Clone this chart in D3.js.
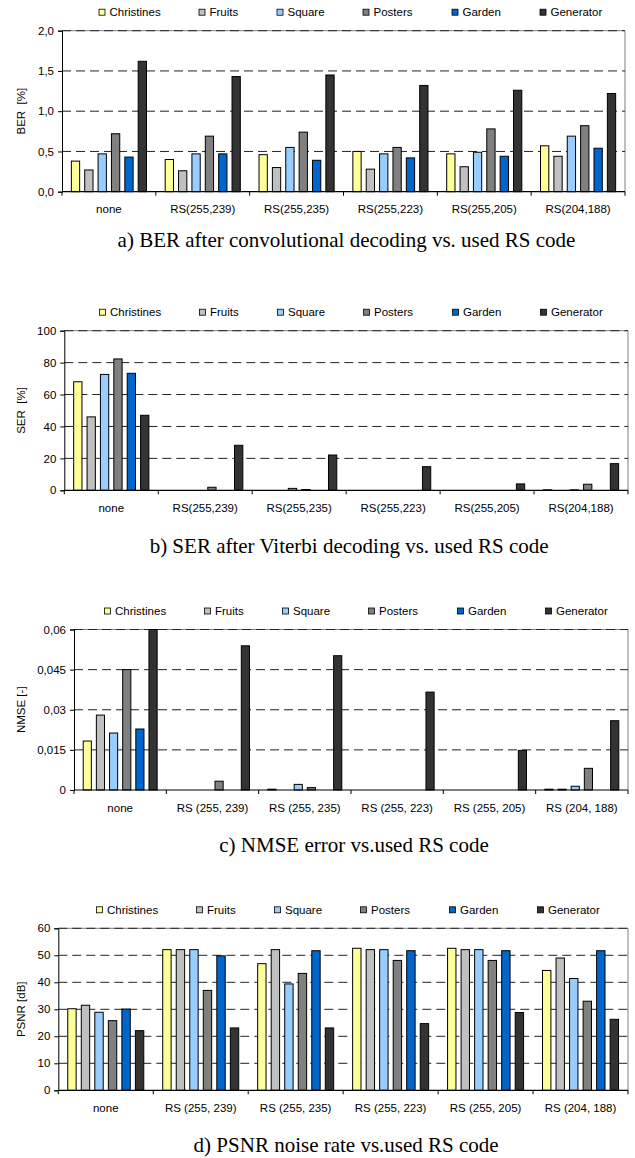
<!DOCTYPE html>
<html>
<head>
<meta charset="utf-8">
<script src="https://cdn.jsdelivr.net/npm/d3@7"></script>
<style>
  body { margin: 0; background: #fff; }
  svg { display: block; }
</style>
</head>
<body>
<div id="chart"></div>
<script>
// series / legend
const series = ["Christines", "Fruits", "Square", "Posters", "Garden", "Generator"];
const seriesColors = ["#FFFF99", "#C0C0C0", "#99CCFF", "#808080", "#0066CC", "#333333"];

// category labels
const catsCompact = ["none", "RS(255,239)", "RS(255,235)", "RS(255,223)", "RS(255,205)", "RS(204,188)"];
const catsSpaced = ["none", "RS (255, 239)", "RS (255, 235)", "RS (255, 223)", "RS (255, 205)", "RS (204, 188)"];

// values, one row per category, columns follow `series`
const berData = [
  [0.38, 0.27, 0.47, 0.72, 0.43, 1.62],
  [0.40, 0.26, 0.47, 0.69, 0.47, 1.43],
  [0.46, 0.30, 0.55, 0.74, 0.39, 1.45],
  [0.50, 0.28, 0.47, 0.55, 0.42, 1.32],
  [0.47, 0.31, 0.49, 0.78, 0.44, 1.26],
  [0.57, 0.44, 0.69, 0.82, 0.54, 1.22]
];
const serData = [
  [68, 46, 72.6, 82.3, 73.3, 47],
  [0, 0, 0, 1.9, 0, 28.2],
  [0, 0, 1.2, 0.5, 0, 22.1],
  [0, 0, 0, 0, 0, 14.8],
  [0, 0, 0, 0, 0, 4.0],
  [0.3, 0, 0.3, 3.8, 0, 16.7]
];
const nmseData = [
  [0.0183, 0.028, 0.0213, 0.045, 0.0228, 0.06],
  [0, 0, 0, 0.0033, 0, 0.0539],
  [0.0003, 0, 0.0021, 0.0009, 0, 0.0502],
  [0, 0, 0, 0, 0, 0.0366],
  [0, 0, 0, 0, 0, 0.0148],
  [0.0003, 0.0003, 0.0014, 0.0081, 0, 0.0259]
];
const psnrData = [
  [30.2, 31.5, 28.9, 25.8, 30.1, 22.1],
  [52.1, 52.1, 52.1, 37.0, 49.8, 23.1],
  [46.9, 52.1, 39.4, 43.3, 51.7, 23.1],
  [52.6, 52.1, 52.1, 48.1, 51.7, 24.7],
  [52.6, 52.1, 52.1, 48.1, 51.7, 28.8],
  [44.4, 49.0, 41.4, 33.0, 51.7, 26.3]
];

// y ticks
const berTicks = [0, 0.5, 1, 1.5, 2];
const berTickLabels = ["0,0", "0,5", "1,0", "1,5", "2,0"];
const serTicks = [0, 20, 40, 60, 80, 100];
const serTickLabels = ["0", "20", "40", "60", "80", "100"];
const nmseTicks = [0, 0.015, 0.03, 0.045, 0.06];
const nmseTickLabels = ["0", "0,015", "0,03", "0,045", "0,06"];
const psnrTicks = [0, 10, 20, 30, 40, 50, 60];
const psnrTickLabels = ["0", "10", "20", "30", "40", "50", "60"];

const W = 635, H = 1158;
const sans = "'Liberation Sans', Arial, sans-serif";
const serif = "'Liberation Serif', 'Times New Roman', serif";
const legendX = [99, 199, 277, 363, 452, 540];

const panels = [
  { data: berData, cats: catsCompact, ticks: berTicks, tickLabels: berTickLabels, yTitle: "BER  [%]",
    caption: "a) BER after convolutional decoding vs. used RS code",
    left: 62, right: 625, top: 30.7, bottom: 191.7, legendShift: 0, captionY: 247 },
  { data: serData, cats: catsCompact, ticks: serTicks, tickLabels: serTickLabels, yTitle: "SER  [%]",
    caption: "b) SER after Viterbi decoding vs. used RS code",
    left: 64.3, right: 628, top: 330.7, bottom: 490.3, legendShift: 0.5, captionY: 553 },
  { data: nmseData, cats: catsSpaced, ticks: nmseTicks, tickLabels: nmseTickLabels, yTitle: "NMSE [-]",
    caption: "c) NMSE error vs.used RS code",
    left: 74, right: 628, top: 629.5, bottom: 790, legendShift: 5.5, captionY: 852 },
  { data: psnrData, cats: catsSpaced, ticks: psnrTicks, tickLabels: psnrTickLabels, yTitle: "PSNR [dB]",
    caption: "d) PSNR noise rate vs.used RS code",
    left: 58.3, right: 628, top: 928.3, bottom: 1090.3, legendShift: -2.5, captionY: 1152 }
];

const svg = d3.select("#chart").append("svg")
  .attr("width", W)
  .attr("height", H)
  .attr("viewBox", `0 0 ${W} ${H}`);

svg.append("rect").attr("width", W).attr("height", H).attr("fill", "#fff");

panels.forEach(p => {
  const g = svg.append("g");
  const yMax = p.ticks[p.ticks.length - 1];

  const x0 = d3.scaleBand().domain(p.cats).range([p.left, p.right]).padding(0);
  const x1 = d3.scaleBand().domain(series).range([0, x0.bandwidth()])
    .paddingInner(0.38).paddingOuter(0.7);
  const y = d3.scaleLinear().domain([0, yMax]).range([p.bottom, p.top]);

  // plot frame (top + right, grey)
  g.append("path")
    .attr("d", `M${p.left},${y(yMax)}H${p.right}V${y(0)}`)
    .attr("fill", "none")
    .attr("stroke", "#808080")
    .attr("stroke-width", 1);

  // dashed gridlines
  g.append("g").selectAll("line")
    .data(p.ticks.filter(t => t > 0))
    .join("line")
    .attr("x1", p.left).attr("x2", p.right)
    .attr("y1", d => y(d)).attr("y2", d => y(d))
    .attr("stroke", "#222")
    .attr("stroke-width", 1)
    .attr("stroke-dasharray", "9,5");

  // bars
  const groups = g.append("g").selectAll("g")
    .data(p.data)
    .join("g")
    .attr("transform", (d, i) => `translate(${x0(p.cats[i])},0)`);

  groups.selectAll("rect")
    .data(row => row.map((v, j) => ({ key: series[j], v, c: seriesColors[j] })))
    .join("rect")
    .filter(d => d.v > 0)
    .attr("x", d => x1(d.key))
    .attr("width", x1.bandwidth())
    .attr("y", d => y(d.v))
    .attr("height", d => y(0) - y(d.v))
    .attr("fill", d => d.c)
    .attr("stroke", "#000")
    .attr("stroke-width", 1);

  // y axis
  const yAxis = d3.axisLeft(y)
    .tickValues(p.ticks)
    .tickFormat((d, i) => p.tickLabels[i])
    .tickSize(4)
    .tickPadding(4);
  const ya = g.append("g")
    .attr("transform", `translate(${p.left},0)`)
    .call(yAxis);
  ya.select(".domain").attr("stroke", "#000");
  ya.selectAll("line").attr("stroke", "#000");
  ya.selectAll("text").attr("font-family", sans).attr("font-size", 11.5).attr("fill", "#000");

  // x axis: baseline + boundary ticks + category labels
  const xa = g.append("g").attr("transform", `translate(0,${p.bottom})`);
  xa.append("line")
    .attr("x1", p.left).attr("x2", p.right)
    .attr("stroke", "#000").attr("stroke-width", 1.2);
  const bounds = p.cats.map(c => x0(c)).concat([x0.range()[1]]);
  xa.selectAll(".bt")
    .data(bounds)
    .join("line")
    .attr("class", "bt")
    .attr("x1", d => d).attr("x2", d => d)
    .attr("y1", 0).attr("y2", 4)
    .attr("stroke", "#000");
  xa.selectAll(".cl")
    .data(p.cats)
    .join("text")
    .attr("class", "cl")
    .attr("x", d => x0(d) + x0.bandwidth() / 2)
    .attr("y", 21.5)
    .attr("text-anchor", "middle")
    .attr("font-family", sans)
    .attr("font-size", 11.5)
    .text(d => d);

  // y title
  g.append("text")
    .attr("transform", `translate(20.7,${(p.top + p.bottom) / 2}) rotate(-90)`)
    .attr("dy", "0.35em")
    .attr("text-anchor", "middle")
    .attr("font-family", sans)
    .attr("font-size", 11.5)
    .style("white-space", "pre")
    .text(p.yTitle);

  // legend
  const ly = p.top - 18.5;
  const leg = g.append("g").selectAll("g")
    .data(series)
    .join("g")
    .attr("transform", (d, i) => `translate(${legendX[i] + p.legendShift},${ly})`);
  leg.append("rect")
    .attr("x", 0).attr("y", -3)
    .attr("width", 6).attr("height", 6)
    .attr("fill", (d, i) => seriesColors[i])
    .attr("stroke", "#000")
    .attr("stroke-width", 0.8);
  leg.append("text")
    .attr("x", 10.5).attr("y", 4)
    .attr("font-family", sans)
    .attr("font-size", 11.5)
    .text(d => d);

  // caption
  svg.append("text")
    .attr("x", (p.left + p.right) / 2 + 3)
    .attr("y", p.captionY)
    .attr("text-anchor", "middle")
    .attr("font-family", serif)
    .attr("font-size", 21)
    .text(p.caption);
});
</script>
</body>
</html>
